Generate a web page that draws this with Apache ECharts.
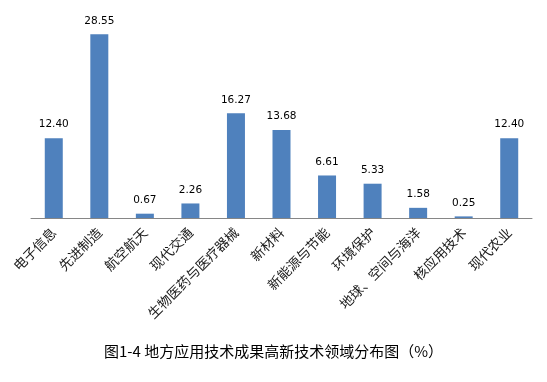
<!DOCTYPE html>
<html>
<head>
<meta charset="utf-8">
<script src="https://cdn.jsdelivr.net/npm/echarts@6/dist/echarts.min.js"></script>
<style>
html,body{margin:0;padding:0;background:#fff;}
#chart{width:547px;height:382px;}
</style>
</head>
<body>
<div id="chart"></div>
<script>
var categories = ['电子信息','先进制造','航空航天','现代交通','生物医药与医疗器械','新材料','新能源与节能','环境保护','地球、空间与海洋','核应用技术','现代农业'];
var values = [12.40, 28.55, 0.67, 2.26, 16.27, 13.68, 6.61, 5.33, 1.58, 0.25, 12.40];
var titleText = '图1-4 地方应用技术成果高新技术领域分布图（%）';

var chart = echarts.init(document.getElementById('chart'));
chart.setOption({
  animation: false,
  backgroundColor: '#fff',
  title: {
    text: titleText,
    left: 'center',
    top: 339,
    textStyle: {fontFamily: 'Noto Sans CJK SC', fontSize: 15, fontWeight: 'normal', color: '#000'}
  },
  grid: {left: 31, right: 15, top: 25, bottom: 164, containLabel: false},
  xAxis: {
    type: 'category',
    data: categories,
    axisLine: {lineStyle: {color: '#868686', width: 1}},
    axisTick: {show: false},
    axisLabel: {
      interval: 0,
      rotate: 45,
      margin: 12,
      fontFamily: 'Noto Sans CJK SC',
      fontSize: 13.5,
      color: '#1a1a1a'
    }
  },
  yAxis: {
    type: 'value',
    min: 0,
    max: 30,
    show: false
  },
  series: [{
    type: 'bar',
    data: values,
    barWidth: 18,
    itemStyle: {color: '#4F81BD'},
    label: {
      show: true,
      position: 'top',
      distance: 8,
      fontFamily: 'DejaVu Sans',
      fontSize: 10.5,
      color: '#000',
      formatter: function(p){ return p.value.toFixed(2); }
    }
  }]
});
</script>
</body>
</html>
